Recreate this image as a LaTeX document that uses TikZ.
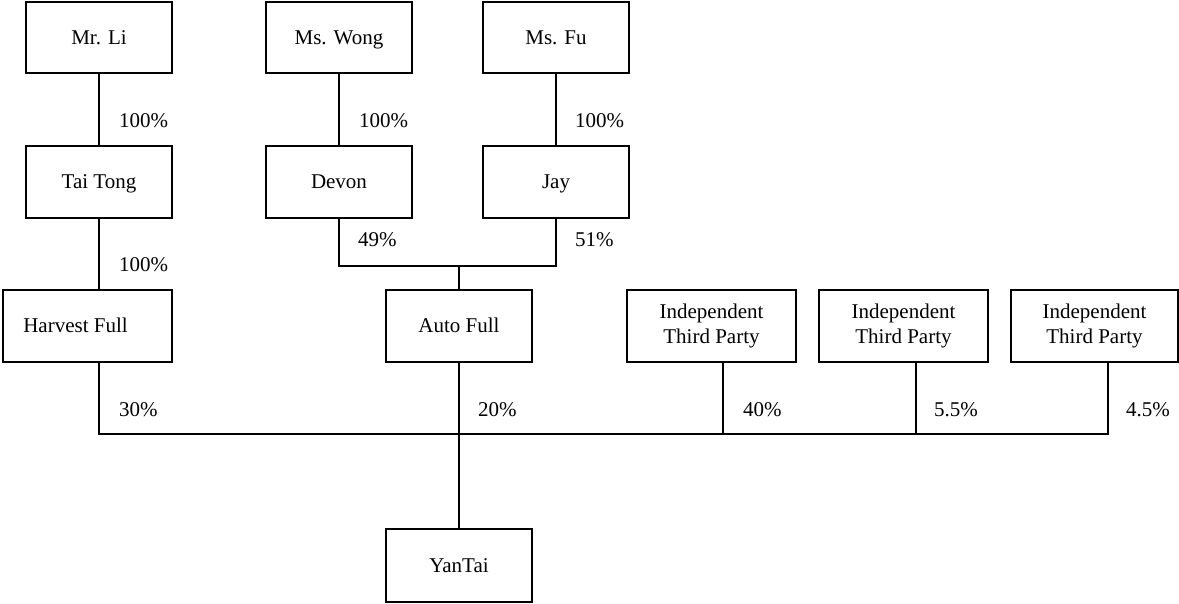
\documentclass[tikz,border=0pt]{standalone}
\usepackage{fontspec}
\setmainfont{Liberation Serif}
\begin{document}
\begin{tikzpicture}[x=1pt,y=-1pt,
  box/.style={draw, line width=2pt, rectangle, inner sep=0pt, minimum width=146pt, minimum height=72pt, align=center, font=\fontsize{21}{24.5}\selectfont},
  one/.style={text height=13.6pt, text depth=0pt},
  wbox/.style={box, minimum width=169pt},
  pct/.style={anchor=west, inner sep=0pt, font=\fontsize{21}{24.5}\selectfont},
  conn/.style={line width=2pt}]
\useasboundingbox (0,0) rectangle (1179,603);
% row 1
\node[box, one, minimum height=71pt] (mrli) at (99,37.5) {Mr. Li};
\node[box, one, minimum height=71pt] (wong) at (339,37.5) {Ms. Wong};
\node[box, one, minimum height=71pt] (fu) at (556,37.5) {Ms. Fu};
% row 2
\node[box, one] (taitong) at (99,182) {Tai Tong};
\node[box, one] (devon) at (339,182) {Devon};
\node[box, one] (jay) at (556,182) {Jay};
% row 3
\node[wbox] (harvest) at (87.5,326) {};
\node[inner sep=0pt, one, font=\fontsize{21}{24.5}\selectfont] (harvesttxt) at (75.5,326) {Harvest Full};
\node[box, one] (auto) at (459,326) {Auto Full};
\node[wbox] (itpa) at (711.5,326) {Independent\\Third Party};
\node[wbox] (itpb) at (903.5,326) {Independent\\Third Party};
\node[wbox, minimum width=167pt] (itpc) at (1094.5,326) {Independent\\Third Party};
% bottom
\node[box, one, minimum height=73pt] (yantai) at (459,565.5) {YanTai};

% connector coordinates
\coordinate (jn) at (459,266);
\coordinate (hx) at (99,362);
\coordinate (ax) at (723,362);
\coordinate (bx) at (916,362);
\coordinate (cx) at (1108,362);
\coordinate (busl) at (99,434);
\coordinate (busr) at (1108,434);

% connectors
\draw[conn] (mrli) -- (taitong);
\draw[conn] (wong) -- (devon);
\draw[conn] (fu) -- (jay);
\draw[conn] (taitong.south) -- (taitong.south |- harvest.north);
\draw[conn] (devon.south) |- (jn) -| (jay.south);
\draw[conn] (jn) -- (auto.north);
\draw[conn] (hx) -- (busl) -- (busr) -- (cx);
\draw[conn] (ax) -- (ax |- busl);
\draw[conn] (bx) -- (bx |- busl);
\draw[conn] (auto.south) -- (yantai.north);

% labels
\node[pct] (l1) at (119,121) {100\%};
\node[pct] (l2) at (359,121) {100\%};
\node[pct] (l3) at (575,121) {100\%};
\node[pct] (l4) at (119,265) {100\%};
\node[pct] (l5) at (358,240) {49\%};
\node[pct] (l6) at (575,240) {51\%};
\node[pct] (l7) at (119,410) {30\%};
\node[pct] (l8) at (478,410) {20\%};
\node[pct] (l9) at (743,410) {40\%};
\node[pct] (l10) at (934,410) {5.5\%};
\node[pct] (l11) at (1126,410) {4.5\%};
\end{tikzpicture}
\end{document}
